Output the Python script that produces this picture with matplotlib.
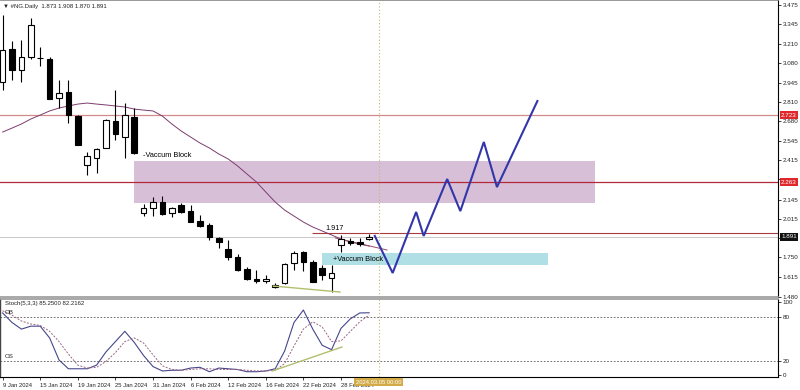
import matplotlib
matplotlib.use("Agg")
import matplotlib.pyplot as plt
import matplotlib.transforms as mtransforms
from matplotlib.patches import Rectangle

plt.rcParams['font.family'] = ['Liberation Sans', 'DejaVu Sans']

# daily candles, #NG, 9 Jan 2024 .. 4 Mar 2024
opens = [2.949, 3.174, 3.031, 3.120, 3.113, 3.106, 2.839, 2.880, 2.716, 2.382,
         2.430, 2.498, 2.682, 2.573, 2.710, 2.054, 2.088, 2.129, 2.054, 2.108,
         2.067, 1.999, 1.972, 1.883, 1.808, 1.753, 1.671, 1.603, 1.589, 1.548,
         1.576, 1.712, 1.787, 1.719, 1.678, 1.610, 1.835, 1.862, 1.856, 1.873]
highs = [3.406, 3.229, 3.236, 3.386, 3.188, 3.120, 2.962, 2.962, 2.723, 2.471,
         2.498, 2.696, 2.894, 2.805, 2.771, 2.115, 2.163, 2.170, 2.095, 2.122,
         2.108, 2.040, 1.985, 1.890, 1.869, 1.774, 1.685, 1.664, 1.630, 1.576,
         1.712, 1.794, 1.794, 1.733, 1.698, 1.698, 1.904, 1.883, 1.883, 1.908]
lows = [2.894, 2.962, 2.949, 3.106, 3.058, 2.830, 2.771, 2.669, 2.515, 2.313,
        2.327, 2.495, 2.553, 2.430, 2.460, 2.033, 2.033, 2.040, 2.026, 2.054,
        1.990, 1.958, 1.869, 1.815, 1.733, 1.658, 1.596, 1.576, 1.576, 1.541,
        1.569, 1.664, 1.658, 1.580, 1.596, 1.514, 1.787, 1.835, 1.828, 1.870]
closes = [3.167, 3.031, 3.120, 3.338, 3.110, 2.833, 2.874, 2.723, 2.518, 2.443,
          2.491, 2.689, 2.594, 2.723, 2.464, 2.088, 2.129, 2.047, 2.088, 2.061,
          1.992, 1.965, 1.890, 1.856, 1.753, 1.664, 1.603, 1.589, 1.603, 1.562,
          1.705, 1.780, 1.719, 1.583, 1.630, 1.644, 1.876, 1.849, 1.842, 1.891]
ma = [2.607, 2.634, 2.662, 2.696, 2.723, 2.751, 2.771, 2.785, 2.798, 2.805,
      2.798, 2.792, 2.785, 2.778, 2.764, 2.757, 2.751, 2.716, 2.662, 2.614,
      2.573, 2.532, 2.498, 2.457, 2.423, 2.375, 2.320, 2.266, 2.197, 2.129,
      2.074, 2.033, 1.992, 1.958, 1.931, 1.904, 1.876, 1.856, 1.842, 1.828]
stoch_k = [85, 72, 63, 67, 67, 51, 21, 9, 9, 9,
           14, 32, 46, 60, 45, 27, 12, 6, 7, 7,
           10, 11, 5, 10, 9, 8, 5, 5, 6, 9,
           33, 72, 89, 63, 41, 35, 64, 77, 85, 85.25]
stoch_d = [88, 82, 74, 70, 68, 60, 46, 29, 14, 10,
           11, 19, 31, 46, 51, 44, 28, 13, 8, 7,
           8, 9, 9, 8, 8, 8, 7, 6, 6, 7,
           16, 40, 63, 73, 66, 46, 47, 60, 73, 82.2]

date_idx = [0, 4, 8, 12, 16, 20, 24, 28, 32, 36]
date_labels = ['9 Jan 2024', '15 Jan 2024', '19 Jan 2024', '25 Jan 2024', '31 Jan 2024',
               '6 Feb 2024', '12 Feb 2024', '16 Feb 2024', '22 Feb 2024', '28 Feb 2024']
price_ticks = [3.475, 3.345, 3.210, 3.080, 2.945, 2.810, 2.680, 2.545, 2.415,
               2.285, 2.145, 2.015, 1.880, 1.750, 1.615, 1.480]
# these two sit under the price boxes
hidden_ticks = [2.285, 1.880]

# projected path drawn by the analyst
path_x = [39.6, 41.5, 44.0, 44.8, 47.3, 48.7, 51.2, 52.6, 56.9]
path_y = [1.897, 1.644, 2.061, 1.897, 2.286, 2.067, 2.539, 2.231, 2.819]

fig = plt.figure(figsize=(8, 3.9), dpi=100)
ax = fig.add_axes([0, 93 / 390, 778 / 800, 297 / 390])
ax2 = fig.add_axes([0, 13 / 390, 778 / 800, 78 / 390])

x_lo, x_hi = -0.28, 82.5
n = len(closes)

# zones
ax.add_patch(Rectangle((13.98, 2.122), 63.0 - 13.98, 2.409 - 2.122,
                       facecolor='#d8bfd8', edgecolor='none', zorder=1))
ax.add_patch(Rectangle((34.0, 1.698), 58.0 - 34.0, 1.780 - 1.698,
                       facecolor='#b0e0e6', edgecolor='none', zorder=1))
ax.text(14.9, 2.450, '-Vaccum Block', fontsize=5.3, va='center', ha='left', zorder=6)
ax.text(35.1, 1.739, '+Vaccum Block', fontsize=5.3, va='center', ha='left', zorder=6)

# levels
ax.axhline(1.891, color='#c8c8c8', lw=0.7, zorder=1.5)
ax.axhline(2.723, color='#d48a8a', lw=0.9, zorder=1.5)
ax.axhline(2.263, color='#b4283c', lw=0.9, zorder=1.5)
ax.hlines(1.917, 32.9, x_hi, color='#a83c3c', lw=0.8, zorder=1.5)
ax.text(34.3, 1.951, '1.917', fontsize=5.2, ha='left', va='center')

# moving average
ax.plot(range(n), ma, color='#7d3c6e', lw=0.7, zorder=2)
ax.plot([35.4, 40.9], [1.883, 1.801], color='#964a6a', lw=0.7, zorder=2)

# candles
for i in range(n):
    o, h, l, c = opens[i], highs[i], lows[i], closes[i]
    ax.vlines(i, l, h, color='black', lw=0.8, zorder=3)
    bottom = min(o, c)
    height = max(abs(c - o), 0.002)
    fc = 'white' if c >= o else 'black'
    ax.add_patch(Rectangle((i - 0.3, bottom), 0.6, height, facecolor=fc,
                           edgecolor='black', lw=0.8, zorder=4))

ax.plot([28.8, 35.9], [1.555, 1.514], color='#b4be6e', lw=1.0, zorder=5)
ax.plot(path_x, path_y, color='#3236aa', lw=1.5, zorder=6, solid_joinstyle='miter')

ax.axvline(40, color='#c8b478', lw=0.8, ls=(0, (1, 2)), zorder=2)
ax2.axvline(40, color='#c8b478', lw=0.8, ls=(0, (1, 2)), zorder=2)

ax.set_xlim(x_lo, x_hi)
ax.set_ylim(1.480, 3.509)
ax.set_xticks([])
ax.yaxis.tick_right()
ax.set_yticks(price_ticks, ['' if v in hidden_ticks else f'{v:.3f}' for v in price_ticks])
ax.tick_params(axis='y', labelsize=4.5, length=2, width=0.6, pad=1.5, colors='#222222')

ax.text(0.004, 0.988, '\u25bc #NG.Daily  1.873 1.908 1.870 1.891', transform=ax.transAxes,
        fontsize=4.3, va='top', ha='left', color='#222222')

# price boxes on the right axis
tr = mtransforms.blended_transform_factory(ax.transAxes, ax.transData)
for val, col in [(2.723, '#e0282c'), (2.263, '#e0282c'), (1.891, '#111111')]:
    ax.text(1.004, val, f'{val:.3f}', transform=tr, fontsize=4.5, color='white',
            ha='left', va='center', zorder=10, clip_on=False,
            bbox=dict(boxstyle='square,pad=0.25', facecolor=col, edgecolor='none'))

ax.spines['left'].set_visible(False)
ax.spines['right'].set_color('black')
ax.spines['right'].set_linewidth(0.8)
ax.spines['top'].set_color('#888888')
ax.spines['top'].set_linewidth(0.6)
ax.spines['bottom'].set_color('#9a9a9a')
ax.spines['bottom'].set_linewidth(1.2)

# stochastic
ax2.plot(range(n), stoch_k, color='#46468c', lw=0.8, zorder=3)
ax2.plot(range(n), stoch_d, color='#9a6482', lw=0.7, ls=(0, (2, 1.5)), zorder=3)
ax2.plot([28.7, 36.1], [6, 38.6], color='#b4be6e', lw=1.0, zorder=4)
ax2.axhline(80, color='#555555', lw=0.6, ls=(0, (2, 2)))
ax2.axhline(20, color='#555555', lw=0.6, ls=(0, (2, 2)))
ax2.text(0.2, 82, 'OB', fontsize=4.5, va='bottom', ha='left', color='#222222')
ax2.text(0.2, 22, 'OS', fontsize=4.5, va='bottom', ha='left', color='#222222')
ax2.text(0.006, 0.97, 'Stoch(5,3,3) 85.2500 82.2162', transform=ax2.transAxes,
         fontsize=4.3, va='top', ha='left', color='#222222')

ax2.set_xlim(x_lo, x_hi)
ax2.set_ylim(-2.2, 104)
ax2.yaxis.tick_right()
ax2.set_yticks([0, 20, 80, 100], ['0', '20', '80', '100'])
ax2.tick_params(axis='y', labelsize=4.5, length=2, width=0.6, pad=1.5, colors='#222222')
ax2.set_xticks(date_idx, date_labels)
ax2.tick_params(axis='x', labelsize=4.2, length=2.5, width=0.6, pad=1.5, colors='#222222')
for lab in ax2.get_xticklabels():
    lab.set_horizontalalignment('left')

trx = mtransforms.blended_transform_factory(ax2.transData, ax2.transAxes)
ax2.text(40, -0.035, '2024.03.05 00:00', transform=trx, fontsize=4.2, color='white',
         ha='center', va='top', zorder=10, clip_on=False,
         bbox=dict(boxstyle='square,pad=0.3', facecolor='#d2aa46', edgecolor='none'))

ax2.spines['left'].set_color('#444444')
ax2.spines['left'].set_linewidth(1.0)
ax2.spines['right'].set_color('black')
ax2.spines['right'].set_linewidth(0.8)
ax2.spines['top'].set_color('#9a9a9a')
ax2.spines['top'].set_linewidth(1.2)
ax2.spines['bottom'].set_color('black')
ax2.spines['bottom'].set_linewidth(0.8)

fig.savefig('out.png', dpi=100, facecolor='white')
